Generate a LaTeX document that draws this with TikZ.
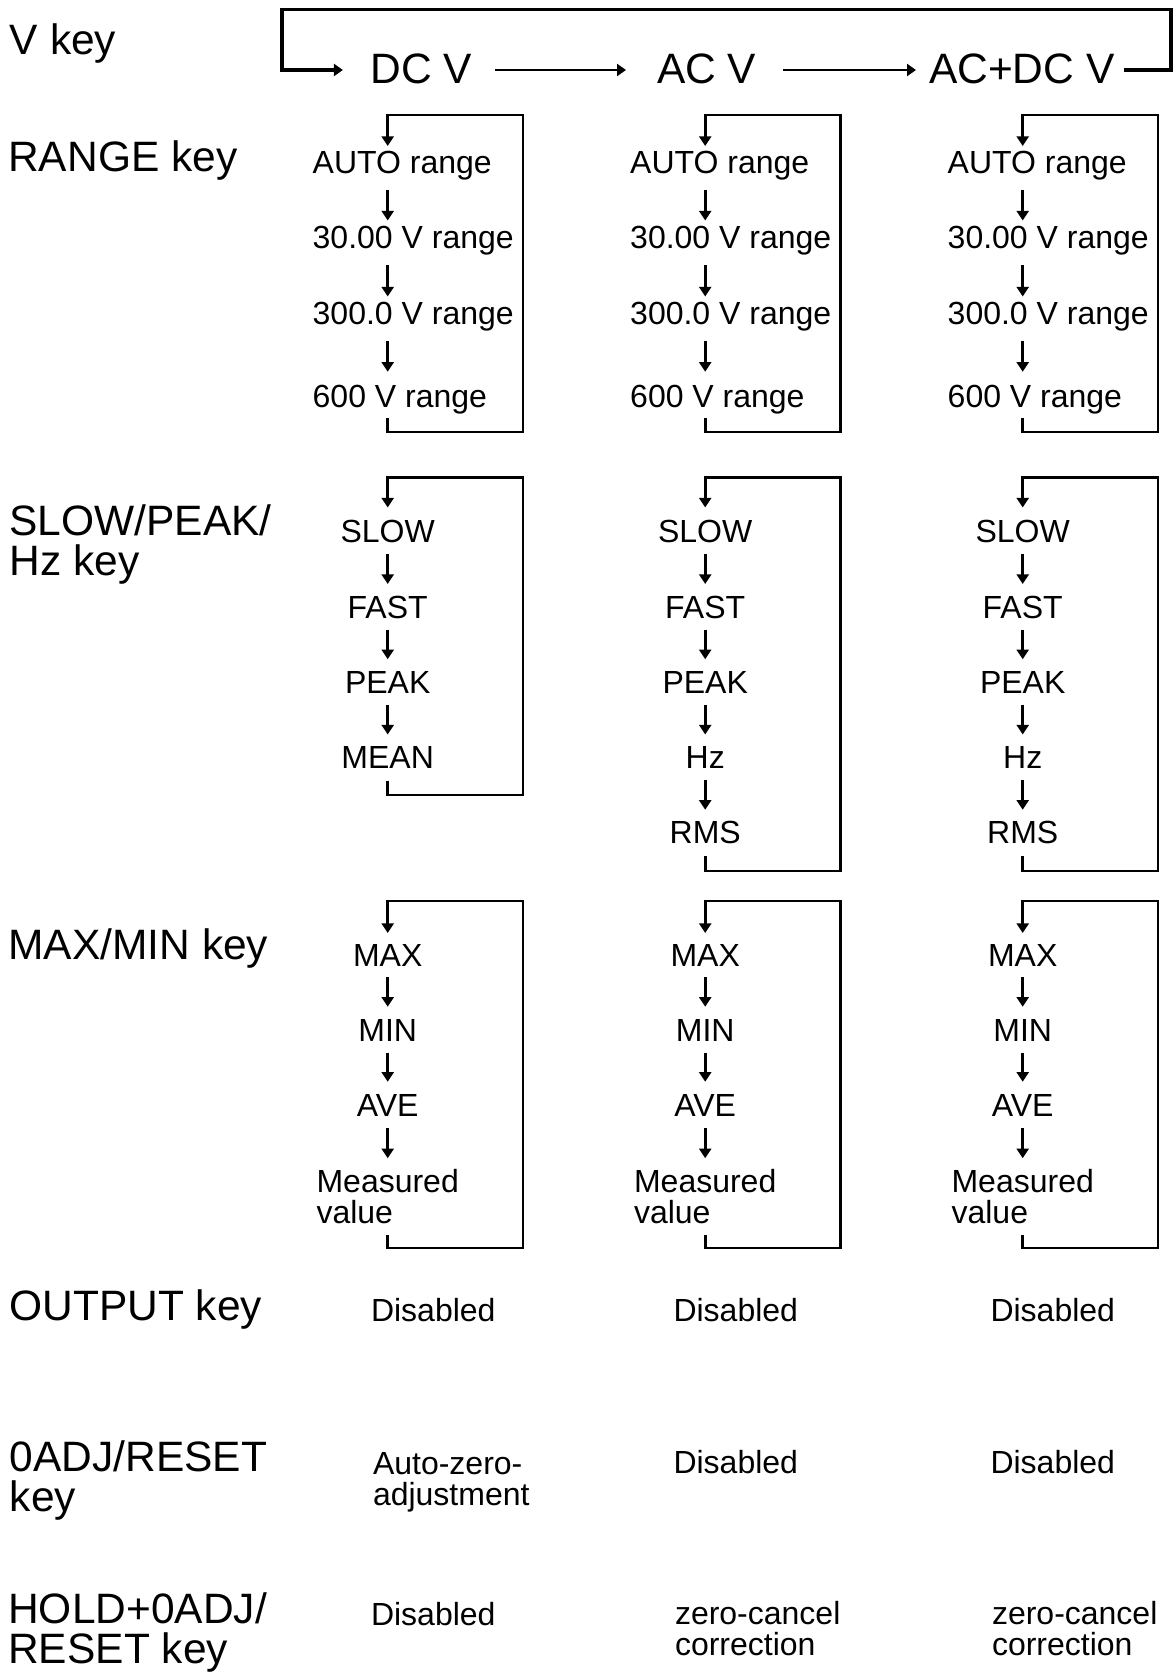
\documentclass[tikz,border=0pt]{standalone}
\usepackage{fontspec}
\setmainfont{Liberation Sans}
\usetikzlibrary{arrows.meta}
\tikzset{
  lblbig/.style={font=\fontsize{21.25pt}{20pt}\selectfont, inner sep=0pt, outer sep=0pt},
  lblbigl/.style={lblbig, align=left},
  txtsm/.style={font=\fontsize{16pt}{15.5pt}\selectfont, inner sep=0pt, outer sep=0pt, text height=11.5pt, text depth=0pt},
  txtsml/.style={font=\fontsize{16pt}{15.5pt}\selectfont, inner sep=0pt, outer sep=0pt, align=left},
  arr/.style={line width=1.35pt, -{Triangle[length=4.8pt,width=6pt]}},
  harr/.style={line width=1.45pt, -{Triangle[length=4.5pt,width=6pt]}},
  cyc/.style={line width=1.45pt, -{Triangle[length=4.8pt,width=6pt]}},
  vloop/.style={line width=1.6pt, -{Triangle[length=4.5pt,width=6pt]}}
}
\begin{document}
\begin{tikzpicture}[x=0.5pt,y=-0.5pt]
\useasboundingbox (0,0) rectangle (1176,1675);

% left key labels (multi-line nodes: base = last line)
\node[lblbig, anchor=base west] (kV) at (10,54.3) {V key};
\node[lblbig, anchor=base west] (kR) at (8.3,171.7) {RANGE key};
\node[lblbigl, anchor=base west] (kS) at (9.5,575) {SLOW/PEAK/\\Hz key};
\node[lblbig, anchor=base west] (kM) at (8.5,959) {MAX/MIN key};
\node[lblbig, anchor=base west] (kO) at (9.5,1320) {OUTPUT key};
\node[lblbigl, anchor=base west] (kZ) at (9.8,1511) {0ADJ/RESET\\key};
\node[lblbigl, anchor=base west] (kH) at (8.3,1663) {HOLD+0ADJ/\\RESET key};

% V key cycle
\coordinate (row) at (0,70);
\coordinate (tl) at (282,9.5);
\coordinate (tr) at (1171,9.5);
\node[lblbig, anchor=base west] (dcv) at (370.7,84) {DC V};
\node[lblbig, anchor=base west] (acv) at (657,84) {AC V};
\node[lblbig, anchor=base west] (acdcv) at (929,84) {AC+DC V};
\draw[harr, shorten <=11.5pt, shorten >=15.5pt] (dcv.east |- row) -- (acv.west |- row);
\draw[harr, shorten <=13.4pt, shorten >=6.5pt] (acv.east |- row) -- (acdcv.west |- row);
\draw[vloop, shorten <=4.8pt, shorten >=13.9pt] (acdcv.east |- row) -| (tr) -- (tl) |- (dcv.west |- row);

% columns
\foreach \c/\X/\R in {1/387.7/523,2/705.2/840.5,3/1022.7/1158}{
  \coordinate (x\c) at (\X,0);
  % RANGE key
  \coordinate (rt\c) at (\X,115);
  \coordinate (rr\c) at (\R,432);
  \node[txtsm, anchor=base west] (ra\c) at (\X-75,173) {AUTO range};
  \node[txtsm, anchor=base west] (rb\c) at (\X-75,248) {30.00 V range};
  \node[txtsm, anchor=base west] (rc\c) at (\X-75,324) {300.0 V range};
  \node[txtsm, anchor=base west] (rd\c) at (\X-75,407) {600 V range};
  \draw[arr, shorten <=8.5pt, shorten >=2.25pt] (ra\c.south -| x\c) -- (rb\c.north -| x\c);
  \draw[arr, shorten <=8.5pt, shorten >=2.25pt] (rb\c.south -| x\c) -- (rc\c.north -| x\c);
  \draw[arr, shorten <=8.5pt, shorten >=6.15pt] (rc\c.south -| x\c) -- (rd\c.north -| x\c);
  \draw[cyc, shorten <=5.5pt, shorten >=2pt] (rd\c.south -| x\c) |- (rr\c) |- (rt\c) -- (ra\c.north -| x\c);
  % SLOW/PEAK/Hz key
  \coordinate (st\c) at (\X,477.5);
  \node[txtsm, anchor=base] (sa\c) at (\X,542.7) {SLOW};
  \node[txtsm, anchor=base] (sb\c) at (\X,618) {FAST};
  \node[txtsm, anchor=base] (sc\c) at (\X,693.2) {PEAK};
  \draw[arr, shorten <=5.75pt, shorten >=5.5pt] (sa\c.south) -- (sb\c.north);
  \draw[arr, shorten <=5.75pt, shorten >=5.5pt] (sb\c.south) -- (sc\c.north);
  % MAX/MIN key
  \coordinate (mt\c) at (\X,901);
  \coordinate (mr\c) at (\R,1248);
  \node[txtsm, anchor=base] (ma\c) at (\X,966) {MAX};
  \node[txtsm, anchor=base] (mb\c) at (\X,1041.7) {MIN};
  \node[txtsm, anchor=base] (mc\c) at (\X,1116.7) {AVE};
  \node[txtsml, anchor=base] (md\c) at (\X,1223) {Measured\\value};
  \draw[arr, shorten <=5.5pt, shorten >=6pt] (ma\c.south) -- (mb\c.north);
  \draw[arr, shorten <=5.5pt, shorten >=6pt] (mb\c.south) -- (mc\c.north);
  \draw[arr, shorten <=5.5pt, shorten >=5.3pt] (mc\c.south) -- (md\c.north);
  \draw[cyc, shorten <=6pt, shorten >=5pt] (md\c.south) |- (mr\c) |- (mt\c) -- (ma\c.north);
}

% SLOW column 1 ending
\coordinate (sr1) at (523,795);
\node[txtsm, anchor=base] (sd1) at (387.7,768.5) {MEAN};
\draw[arr, shorten <=5.75pt, shorten >=5.5pt] (sc1.south) -- (sd1.north);
\draw[cyc, shorten <=6pt, shorten >=6.1pt] (sd1.south) |- (sr1) |- (st1) -- (sa1.north);

% SLOW columns 2 and 3 ending
\foreach \c/\X/\R in {2/705.2/840.5,3/1022.7/1158}{
  \coordinate (sr\c) at (\R,871);
  \node[txtsm, anchor=base] (sd\c) at (\X,768.5) {Hz};
  \node[txtsm, anchor=base] (se\c) at (\X,843.7) {RMS};
  \draw[arr, shorten <=5.75pt, shorten >=5.5pt] (sc\c.south) -- (sd\c.north);
  \draw[arr, shorten <=5.75pt, shorten >=5.5pt] (sd\c.south) -- (se\c.north);
  \draw[cyc, shorten <=6pt, shorten >=6.1pt] (se\c.south) |- (sr\c) |- (st\c) -- (sa\c.north);
}

% OUTPUT key
\node[txtsm, anchor=base west] (o1) at (371,1321.7) {Disabled};
\node[txtsm, anchor=base west] (o2) at (673.5,1321.7) {Disabled};
\node[txtsm, anchor=base west] (o3) at (990.5,1321.7) {Disabled};
% 0ADJ/RESET key
\node[txtsml, anchor=base west] (z1) at (373,1505) {Auto-zero-\\adjustment};
\node[txtsm, anchor=base west] (z2) at (673.5,1473) {Disabled};
\node[txtsm, anchor=base west] (z3) at (990.5,1473) {Disabled};
% HOLD+0ADJ/RESET key
\node[txtsm, anchor=base west] (h1) at (371,1625) {Disabled};
\node[txtsml, anchor=base west] (h2) at (675,1655) {zero-cancel\\correction};
\node[txtsml, anchor=base west] (h3) at (992,1655) {zero-cancel\\correction};
\end{tikzpicture}
\end{document}
